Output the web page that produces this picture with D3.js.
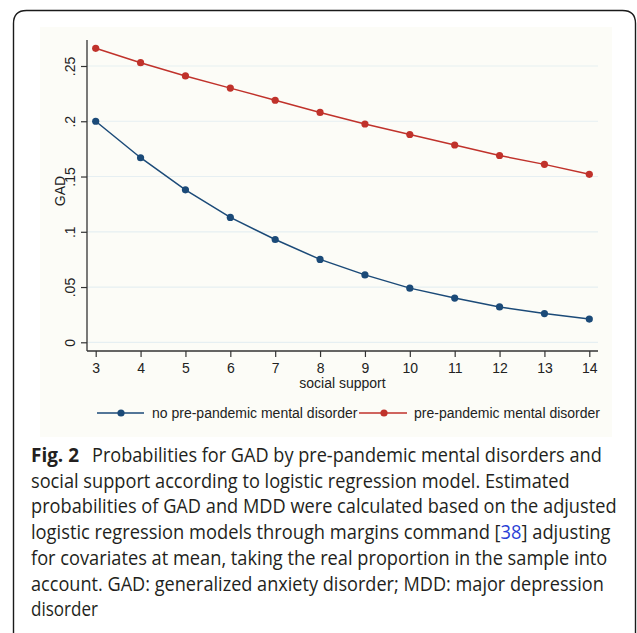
<!DOCTYPE html>
<html>
<head>
<meta charset="utf-8">
<script src="https://cdn.jsdelivr.net/npm/d3@7"></script>
<style>
  html, body { margin: 0; padding: 0; background: #ffffff; }
  svg { display: block; }
</style>
</head>
<body>
<svg id="chart" width="637" height="633"></svg>
<script>
// ---- data ----
const socialSupport = [3, 4, 5, 6, 7, 8, 9, 10, 11, 12, 13, 14];
const noPrePandemic = [0.200, 0.167, 0.138, 0.113, 0.093, 0.075, 0.061, 0.049, 0.040, 0.032, 0.026, 0.021];
const prePandemic   = [0.266, 0.253, 0.241, 0.230, 0.219, 0.208, 0.1975, 0.188, 0.1785, 0.169, 0.161, 0.152];
const yTickValues = [0, 0.05, 0.1, 0.15, 0.2, 0.25];
const yTickLabels = ["0", ".05", ".1", ".15", ".2", ".25"];
const seriesNames = ["no pre-pandemic mental disorder", "pre-pandemic mental disorder"];
const captionLines = [
  "Probabilities for GAD by pre-pandemic mental disorders and",
  "social support according to logistic regression model. Estimated",
  "probabilities of GAD and MDD were calculated based on the adjusted",
  "logistic regression models through margins command [38] adjusting",
  "for covariates at mean, taking the real proportion in the sample into",
  "account. GAD: generalized anxiety disorder; MDD: major depression",
  "disorder"
];

const svg = d3.select("#chart");

// outer rounded frame
const fx0 = 13.5, fy0 = 10.5, fx1 = 635.5, fy1 = 645, r = 13;
svg.append("path")
  .attr("d", `M${fx0},${fy1} L${fx0},${fy0 + r} Q${fx0},${fy0} ${fx0 + r},${fy0} L${fx1 - r},${fy0} Q${fx1},${fy0} ${fx1},${fy0 + r} L${fx1},${fy1}`)
  .attr("fill", "none").attr("stroke", "#1a1a1a").attr("stroke-width", 1.4);

// chart background (graph region)
svg.append("rect").attr("x", 40).attr("y", 27).attr("width", 572).attr("height", 410)
  .attr("fill", "#fcfcf7");

const x = d3.scaleLinear().domain([3, 14]).range([95.7, 589.3]);
const y = d3.scaleLinear().domain([0, 0.25]).range([342.3, 66]);
const plotLeft = 87, plotRight = 598, plotTop = 40, plotBottom = 351;

// gridlines
svg.append("g").selectAll("line").data(yTickValues).join("line")
  .attr("x1", plotLeft).attr("x2", plotRight)
  .attr("y1", d => y(d)).attr("y2", d => y(d))
  .attr("stroke", "#e6eff2").attr("stroke-width", 1.2);

const axisColor = "#333333";
const tickFont = "'Liberation Sans', Arial, sans-serif";

// y axis
const yAxis = svg.append("g").attr("transform", `translate(${plotLeft},0)`)
  .call(d3.axisLeft(y).tickValues(yTickValues).tickFormat((d, i) => yTickLabels[i]).tickSize(6).tickPadding(0));
yAxis.select(".domain").remove();
yAxis.selectAll(".tick line").attr("stroke", axisColor).attr("stroke-width", 1.2);
yAxis.selectAll(".tick text")
  .attr("x", null).attr("dy", null)
  .attr("transform", "translate(-12,0) rotate(-90)")
  .attr("text-anchor", "middle")
  .attr("fill", "#222").style("font-family", tickFont).style("font-size", "14px");
svg.append("line").attr("x1", plotLeft).attr("x2", plotLeft).attr("y1", plotTop).attr("y2", plotBottom)
  .attr("stroke", axisColor).attr("stroke-width", 1.3);

// x axis
const xAxis = svg.append("g").attr("transform", `translate(0,${plotBottom})`)
  .call(d3.axisBottom(x).tickValues(socialSupport).tickFormat(d3.format("d")).tickSize(6));
xAxis.select(".domain").remove();
xAxis.selectAll(".tick line").attr("stroke", axisColor).attr("stroke-width", 1.2);
xAxis.selectAll(".tick text")
  .attr("y", 21.5).attr("dy", null)
  .attr("fill", "#222").style("font-family", tickFont).style("font-size", "14px");
svg.append("line").attr("x1", plotLeft).attr("x2", plotRight).attr("y1", plotBottom).attr("y2", plotBottom)
  .attr("stroke", axisColor).attr("stroke-width", 1.3);

// axis titles
svg.append("text").attr("x", (plotLeft + plotRight) / 2).attr("y", 388)
  .attr("text-anchor", "middle").attr("fill", "#222")
  .style("font-family", tickFont).style("font-size", "14px").text("social support");
svg.append("text").attr("transform", "translate(65,191) rotate(-90)")
  .attr("text-anchor", "middle").attr("fill", "#222")
  .style("font-family", tickFont).style("font-size", "14px").text("GAD");

// series
const colors = ["#1b4a78", "#c0322b"];
const seriesData = [noPrePandemic, prePandemic];
const line = d3.line().x(d => x(d[0])).y(d => y(d[1]));
seriesData.forEach((vals, si) => {
  const pts = socialSupport.map((s, i) => [s, vals[i]]);
  svg.append("path").datum(pts).attr("d", line)
    .attr("fill", "none").attr("stroke", colors[si]).attr("stroke-width", 1.5);
  svg.append("g").selectAll("circle").data(pts).join("circle")
    .attr("cx", d => x(d[0])).attr("cy", d => y(d[1])).attr("r", 3.6)
    .attr("fill", colors[si]);
});

// legend
const legendY = 413;
const legendItems = [
  { x1: 97, x2: 144, mx: 121, tx: 152 },
  { x1: 359, x2: 407, mx: 384, tx: 414 }
];
legendItems.forEach((it, i) => {
  svg.append("line").attr("x1", it.x1).attr("x2", it.x2).attr("y1", legendY).attr("y2", legendY)
    .attr("stroke", colors[i]).attr("stroke-width", 1.5);
  svg.append("circle").attr("cx", it.mx).attr("cy", legendY).attr("r", 3.6).attr("fill", colors[i]);
  svg.append("text").attr("x", it.tx).attr("y", legendY + 5)
    .attr("fill", "#222").style("font-family", tickFont).style("font-size", "14px")
    .text(seriesNames[i]);
});

// caption: each line horizontally scaled to match the reference line widths
const capFont = "'Open Sans', 'Noto Sans', sans-serif";
const capColor = "#231f20";
const capX = 31, capY0 = 462, capPitch = 25.7;
const lineEnds = [602, 570, 617, 611, 608, 604, 98];

function fitText(sel, x0, y0, target) {
  const w = sel.node().getComputedTextLength();
  const k = w > 0 ? target / w : 1;
  sel.attr("x", 0).attr("y", 0).attr("transform", `translate(${x0},${y0}) scale(${k},1)`);
}

const figLabel = svg.append("text")
  .attr("fill", capColor).style("font-family", capFont).style("font-size", "20px").style("font-weight", "700")
  .text("Fig. 2");
fitText(figLabel, capX, capY0, 79 - capX);

captionLines.forEach((ln, i) => {
  const sx = i === 0 ? 92 : capX;
  const t = svg.append("text")
    .attr("fill", capColor).style("font-family", capFont).style("font-size", "20px");
  const m = ln.indexOf("[38]");
  if (m >= 0) {
    t.append("tspan").text(ln.slice(0, m + 1));
    t.append("tspan").attr("fill", "#2b3fd6").text("38");
    t.append("tspan").text(ln.slice(m + 3));
  } else {
    t.text(ln);
  }
  fitText(t, sx, capY0 + i * capPitch, lineEnds[i] - sx);
});
</script>
</body>
</html>
